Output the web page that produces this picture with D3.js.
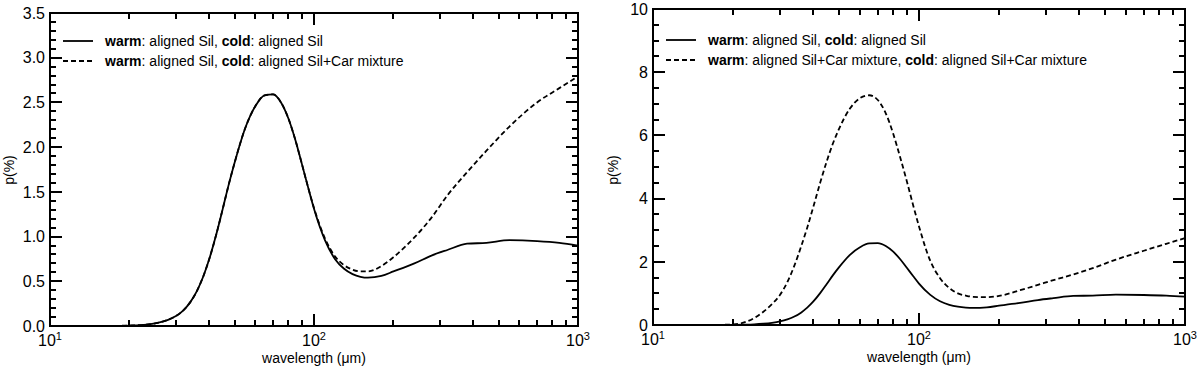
<!DOCTYPE html>
<html>
<head>
<meta charset="utf-8">
<script src="https://cdn.jsdelivr.net/npm/d3@7"></script>
<style>
body { margin: 0; background: #fff; }
text { font-family: "Liberation Sans", Arial, sans-serif; fill: #000; }
</style>
</head>
<body>
<div id="zone_graphique"></div>
<script>
// longueurs d'onde (micron) communes aux trois courbes
var lambda = [10, 15, 18, 20, 22, 24, 26, 28, 30, 32, 34, 36, 38, 40, 42.5, 45, 47.5, 50, 55, 60, 65, 70, 75, 80, 85, 90, 95, 100,
              110, 120, 130, 140, 150, 160, 180, 200, 240, 280, 320, 380, 450, 550, 700, 850, 1000];

// warm: aligned Sil, cold: aligned Sil
var pSilSil = [0, 0, 0.002, 0.005, 0.01, 0.02, 0.04, 0.069, 0.111, 0.175, 0.267, 0.391, 0.548, 0.737, 1.008, 1.296, 1.578, 1.823, 2.22, 2.46, 2.58, 2.59, 2.50, 2.32, 2.08, 1.81, 1.55, 1.31,
               0.96, 0.75, 0.64, 0.58, 0.55, 0.54, 0.56, 0.61, 0.70, 0.79, 0.85, 0.92, 0.93, 0.96, 0.95, 0.93, 0.90];
// warm: aligned Sil, cold: aligned Sil+Car mixture
var pSilMix = [0, 0, 0.002, 0.005, 0.01, 0.02, 0.04, 0.069, 0.111, 0.175, 0.267, 0.391, 0.548, 0.737, 1.008, 1.296, 1.578, 1.823, 2.22, 2.46, 2.58, 2.59, 2.50, 2.32, 2.08, 1.81, 1.55, 1.32,
               0.98, 0.78, 0.68, 0.63, 0.61, 0.61, 0.67, 0.77, 0.99, 1.22, 1.46, 1.72, 1.96, 2.23, 2.50, 2.66, 2.79];
// warm: aligned Sil+Car mixture, cold: aligned Sil+Car mixture
var pMixMix = [0, 0, 0.005, 0.02, 0.08, 0.22, 0.42, 0.66, 0.95, 1.36, 1.88, 2.47, 3.08, 3.72, 4.50, 5.18, 5.75, 6.20, 6.85, 7.18, 7.27, 7.12, 6.70, 6.05, 5.30, 4.55, 3.80, 3.12,
               2.05, 1.48, 1.17, 1.00, 0.93, 0.89, 0.88, 0.92, 1.10, 1.27, 1.42, 1.60, 1.80, 2.07, 2.35, 2.57, 2.75];

var yTicksGauche = [0, 0.5, 1, 1.5, 2, 2.5, 3, 3.5];
var yTicksDroite = [0, 2, 4, 6, 8, 10];
var xTicks = [10, 100, 1000];
var xExposants = ["1", "2", "3"];

var legendeGauche = [
    [["warm", true], [": aligned Sil, ", false], ["cold", true], [": aligned Sil", false]],
    [["warm", true], [": aligned Sil, ", false], ["cold", true], [": aligned Sil+Car mixture", false]]
];
var legendeDroite = [
    [["warm", true], [": aligned Sil, ", false], ["cold", true], [": aligned Sil", false]],
    [["warm", true], [": aligned Sil+Car mixture, ", false], ["cold", true], [": aligned Sil+Car mixture", false]]
];

var largeur = 1200;
var hauteur = 371;

var svg = d3.select("#zone_graphique")
    .append("svg")
        .attr("width", largeur)
        .attr("height", hauteur);

function panneau(p) {
    var width = p.droite - p.gauche,
        height = p.bas - p.haut;

    var g = svg.append("g")
        .attr("transform", "translate(" + p.gauche + "," + p.haut + ")");

    var x = d3.scaleLog()
        .domain([10, 1000])
        .range([0, width]);
    var y = d3.scaleLinear()
        .domain([0, p.ymax])
        .range([height, 0]);

    // graduations : majeures (12 px) et mineures (6 px), vers l'interieur, sur les 4 cotes
    var xMineurs = [];
    [10, 100].forEach(function (dec) {
        for (var k = 2; k <= 9; k++) xMineurs.push(k * dec);
    });
    var grad = g.append("g").attr("fill", "#000");
    xTicks.concat(xMineurs).forEach(function (v, i) {
        var t = i < xTicks.length ? 12 : 6;
        var px = Math.round(x(v));
        grad.append("rect").attr("x", px - 1).attr("y", height - t).attr("width", 2).attr("height", t);
        grad.append("rect").attr("x", px - 1).attr("y", 0).attr("width", 2).attr("height", t);
    });
    d3.range(0, p.ymax + 1e-9, p.yMineur).forEach(function (v) {
        var majeur = p.yTicks.some(function (m) { return Math.abs(m - v) < 1e-6; });
        var t = majeur ? 12 : 6;
        var py = Math.round(y(v));
        grad.append("rect").attr("x", 0).attr("y", py - 1).attr("width", t).attr("height", 2);
        grad.append("rect").attr("x", width - t).attr("y", py - 1).attr("width", t).attr("height", 2);
    });

    // libelles en y
    g.append("g")
        .selectAll("text")
        .data(p.yTicks)
        .enter()
        .append("text")
            .attr("x", -5)
            .attr("y", function (v) { return y(v); })
            .attr("dy", "0.36em")
            .attr("text-anchor", "end")
            .attr("font-size", "16px")
            .text(p.yFormat);

    // libelles 10^n
    var xLab = g.append("g")
        .selectAll("text")
        .data(xTicks)
        .enter()
        .append("text")
            .attr("x", function (v) { return x(v); })
            .attr("y", height + 20)
            .attr("text-anchor", "middle")
            .attr("font-size", "16px");
    xLab.append("tspan").text("10");
    xLab.append("tspan")
        .attr("dy", -6)
        .attr("font-size", "11px")
        .text(function (v, i) { return xExposants[i]; });

    // cadre
    g.append("rect")
        .attr("width", width)
        .attr("height", height)
        .attr("fill", "none")
        .attr("stroke", "#000")
        .attr("stroke-width", 2);

    // courbes
    var ligne = d3.line()
        .x(function (e) { return x(e[0]); })
        .y(function (e) { return y(e[1]); })
        .curve(d3.curveMonotoneX);

    p.series.forEach(function (s) {
        g.append("path")
            .datum(d3.zip(lambda, s.valeurs))
            .attr("d", ligne)
            .attr("fill", "none")
            .attr("stroke", "#000")
            .attr("stroke-width", 1.8)
            .attr("stroke-dasharray", s.pointille ? "5,3" : null);
    });

    // legende
    p.series.forEach(function (s, i) {
        var ly = p.legendeY + i * 20;
        g.append("line")
            .attr("x1", 13).attr("x2", 43)
            .attr("y1", ly).attr("y2", ly)
            .attr("stroke", "#000")
            .attr("stroke-width", 1.8)
            .attr("stroke-dasharray", s.pointille ? "5,3" : null);
        var t = g.append("text")
            .attr("x", 55)
            .attr("y", ly + 5)
            .attr("font-size", "14px");
        p.legende[i].forEach(function (morceau) {
            t.append("tspan")
                .attr("font-weight", morceau[1] ? "bold" : null)
                .text(morceau[0]);
        });
    });

    // titres des axes
    g.append("text")
        .attr("x", width / 2)
        .attr("y", height + 37)
        .attr("text-anchor", "middle")
        .attr("font-size", "14px")
        .text("wavelength (\u03BCm)");
    g.append("text")
        .attr("transform", "translate(" + (p.yTitreX - p.gauche) + "," + (170 - p.haut) + ") rotate(-90)")
        .attr("text-anchor", "middle")
        .attr("font-size", "14px")
        .text("p(%)");
}

panneau({
    gauche: 50, droite: 578, haut: 13, bas: 326,
    ymax: 3.5, yMineur: 0.1, yTicks: yTicksGauche, yFormat: d3.format(".1f"),
    yTitreX: 14, legendeY: 28, legende: legendeGauche,
    series: [{valeurs: pSilSil, pointille: false}, {valeurs: pSilMix, pointille: true}]
});

panneau({
    gauche: 653, droite: 1185, haut: 9, bas: 325,
    ymax: 10, yMineur: 0.5, yTicks: yTicksDroite, yFormat: d3.format("d"),
    yTitreX: 618, legendeY: 31, legende: legendeDroite,
    series: [{valeurs: pSilSil, pointille: false}, {valeurs: pMixMix, pointille: true}]
});
</script>
</body>
</html>
